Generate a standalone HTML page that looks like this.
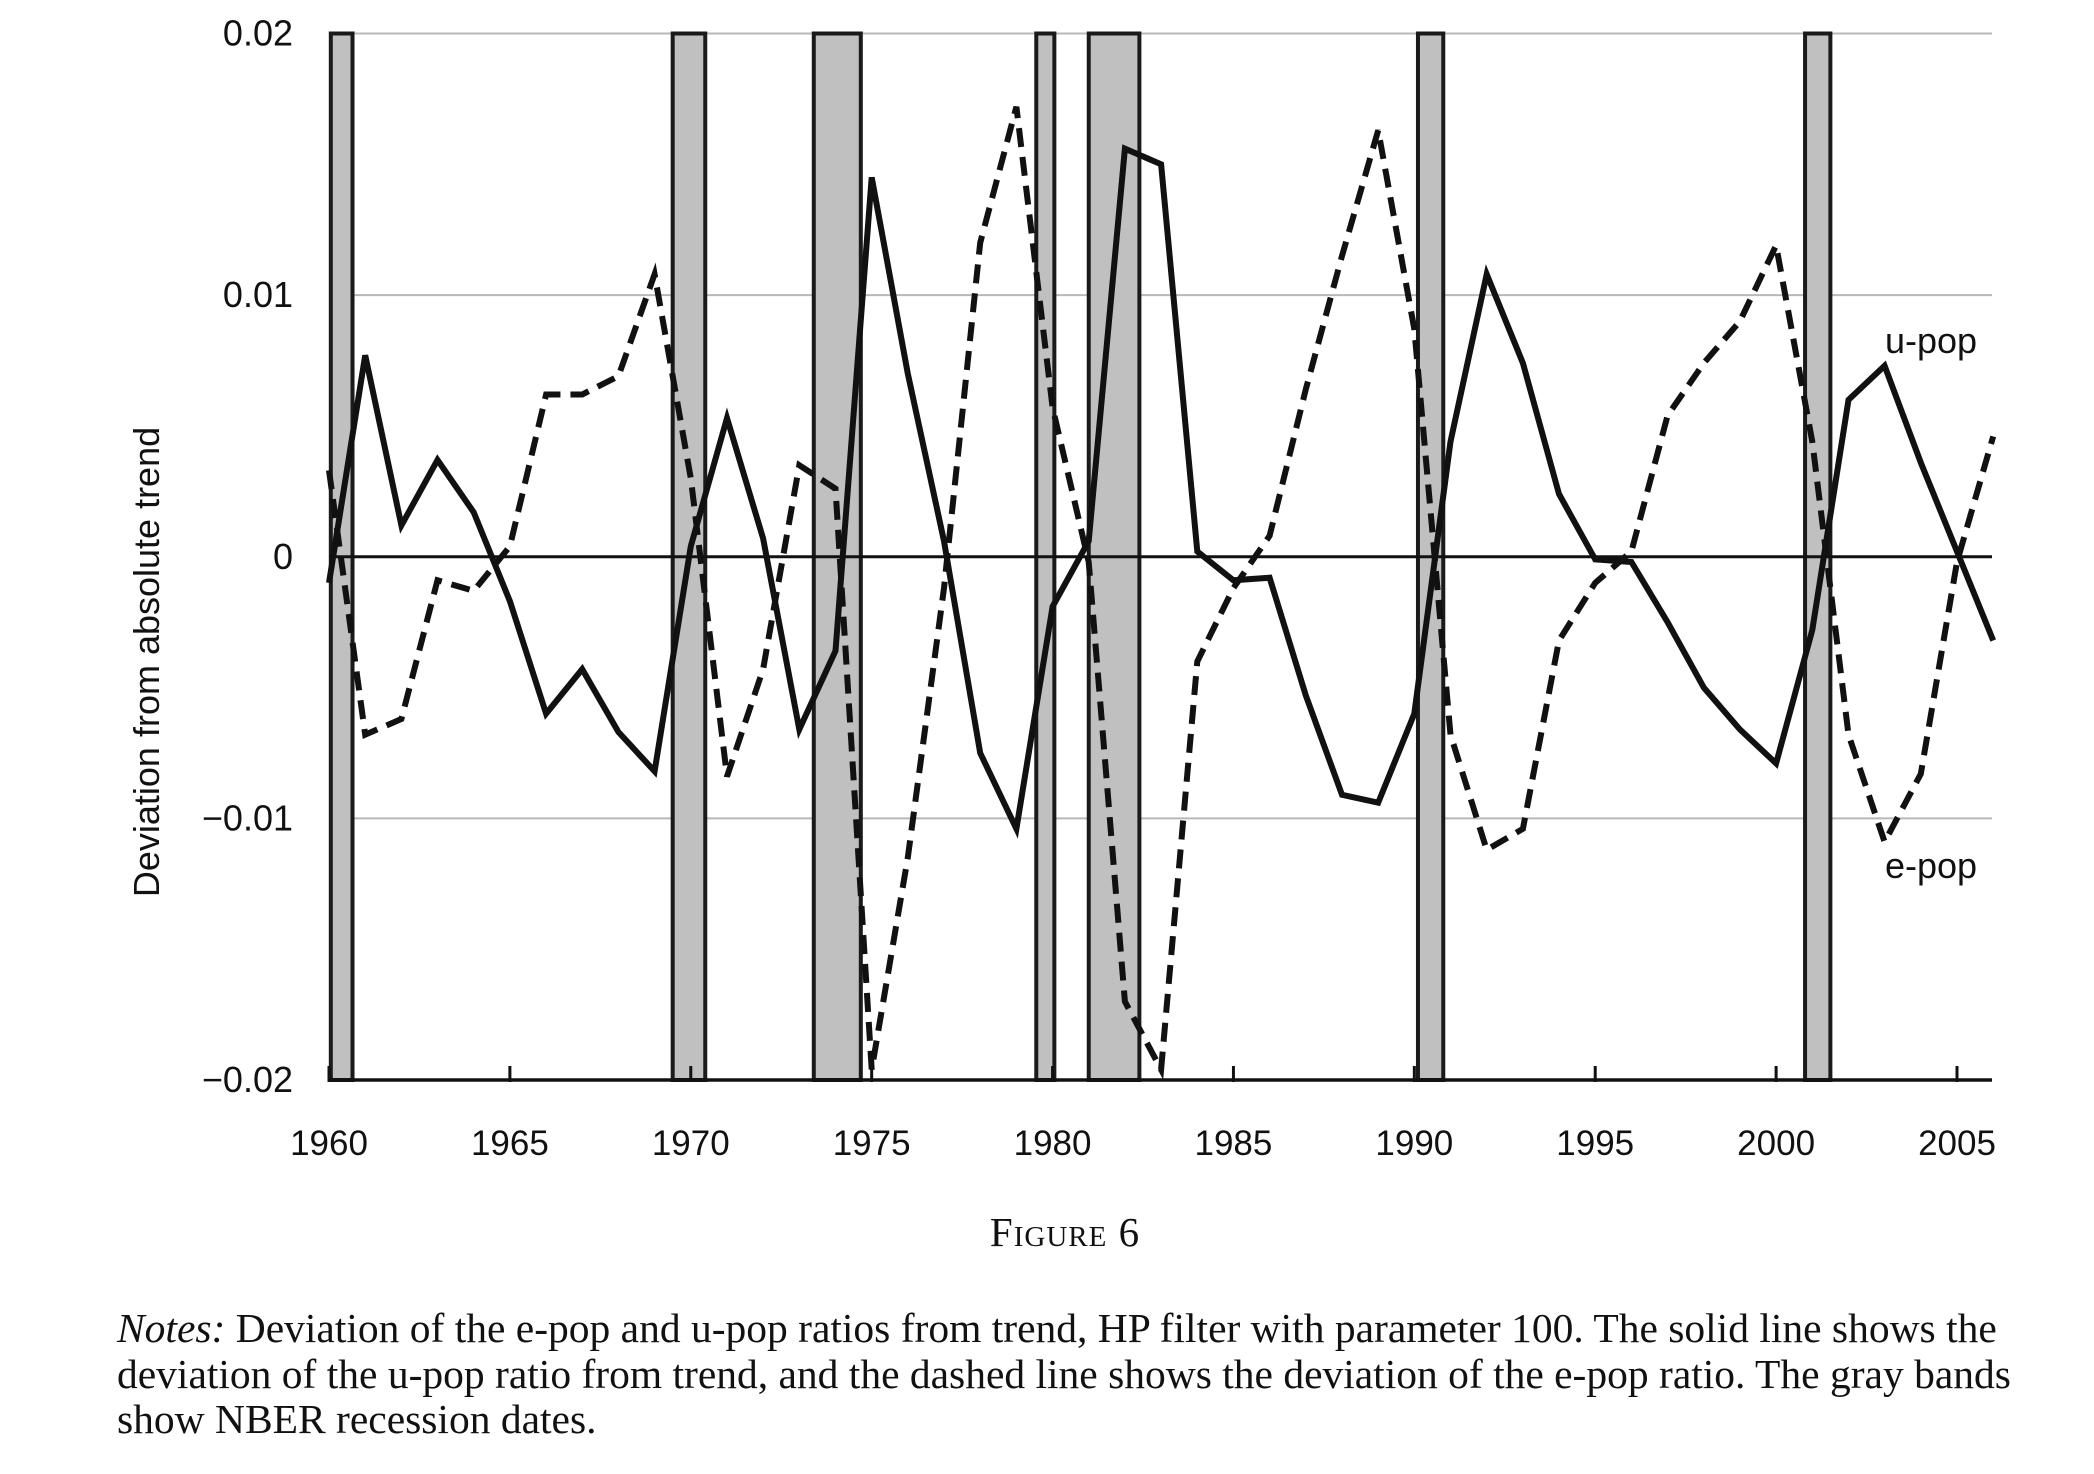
<!DOCTYPE html>
<html><head><meta charset="utf-8">
<style>
html,body{margin:0;padding:0;background:#fff;}
body{width:2094px;height:1474px;position:relative;overflow:hidden;}
svg{position:absolute;left:0;top:0;}
.notes{position:absolute;left:117px;top:1306px;width:1990px;font-family:"Liberation Serif",serif;font-size:41.5px;line-height:45.5px;color:#111;white-space:nowrap;}
.fig{position:absolute;left:0;width:2130px;top:1208px;text-align:center;font-family:"Liberation Serif",serif;font-size:41px;color:#111;font-variant:small-caps;letter-spacing:1px;}
</style></head>
<body>
<svg id="chart" width="2094" height="1474" xmlns="http://www.w3.org/2000/svg"></svg>
<div class="fig">Figure 6</div>
<div class="notes"><i>Notes:</i> Deviation of the e-pop and u-pop ratios from trend, HP filter with parameter 100. The solid line shows the<br>deviation of the u-pop ratio from trend, and the dashed line shows the deviation of the e-pop ratio. The gray bands<br>show NBER recession dates.</div>
<script>
const years = [1960,1961,1962,1963,1964,1965,1966,1967,1968,1969,1970,1971,1972,1973,1974,1975,1976,1977,1978,1979,1980,1981,1982,1983,1984,1985,1986,1987,1988,1989,1990,1991,1992,1993,1994,1995,1996,1997,1998,1999,2000,2001,2002,2003,2004,2005,2006];
const upop = [-0.001,0.0077,0.0012,0.0037,0.0017,-0.0017,-0.006,-0.0043,-0.0067,-0.0082,0.0004,0.0053,0.0007,-0.0066,-0.0036,0.0145,0.007,0.0006,-0.0075,-0.0104,-0.0019,0.0006,0.0156,0.015,0.0002,-0.0009,-0.0008,-0.0053,-0.0091,-0.0094,-0.006,0.0044,0.0108,0.0074,0.0024,-0.0001,-0.0002,-0.0025,-0.005,-0.0066,-0.0079,-0.0028,0.006,0.0073,0.0036,0.0002,-0.0032];
const epop = [0.0033,-0.0068,-0.0062,-0.0009,-0.0013,0.0004,0.0062,0.0062,0.0069,0.0108,0.003,-0.0084,-0.0043,0.0035,0.0026,-0.0196,-0.0115,-0.0012,0.012,0.0172,0.0057,-0.0002,-0.017,-0.0196,-0.004,-0.0012,0.0008,0.0064,0.0115,0.0163,0.0087,-0.0068,-0.0112,-0.0104,-0.0032,-0.001,0.0002,0.0054,0.0074,0.009,0.0119,0.0044,-0.0068,-0.0109,-0.0083,-0.0002,0.0046];
const recStart = [1960.05,1969.5,1973.4,1979.55,1981.0,1990.1,2000.8];
const recEnd = [1960.65,1970.4,1974.7,1980.05,1982.4,1990.8,2001.5];
const yTicks = [0.02,0.01,0,-0.01,-0.02];
const yTickLabels = ["0.02","0.01","0","\u22120.01","\u22120.02"];
const xTicks = [1960,1965,1970,1975,1980,1985,1990,1995,2000,2005];

const L=329,R=1992,T=33.5,B=1080;
const X=y=>L+(y-1960)*(1957-329)/45;
const Y=v=>T+(0.02-v)/0.04*(B-T);
const svg=document.getElementById('chart');
const NS='http://www.w3.org/2000/svg';
function mk(tag,attrs,parent){const e=document.createElementNS(NS,tag);for(const k in attrs)e.setAttribute(k,attrs[k]);(parent||svg).appendChild(e);return e;}

yTicks.forEach((v,i)=>{
  if(v!==0 && v!==-0.02){
    const g=mk('line',{x1:L,x2:R,y1:Y(v),y2:Y(v),stroke:'#b8b8b8','stroke-width':2});
    
    
  }
  const t=mk('text',{x:293,y:Y(v)+12,'text-anchor':'end','font-family':'Liberation Sans, sans-serif','font-size':36,fill:'#111'});
  t.textContent=yTickLabels[i];
  
  
});
recStart.forEach((s,i)=>{
  const r=mk('rect',{x:X(s),y:T,width:X(recEnd[i])-X(s),height:B-T,fill:'#c0c0c0',stroke:'#1a1a1a','stroke-width':4});
  
  
});
const z=mk('line',{x1:L,x2:R,y1:Y(0),y2:Y(0),stroke:'#111','stroke-width':3});


const ax=mk('line',{x1:L,x2:R,y1:B,y2:B,stroke:'#111','stroke-width':3.5});


xTicks.forEach(y=>{
  const tk=mk('line',{x1:X(y),x2:X(y),y1:B-14,y2:B+2,stroke:'#111','stroke-width':3});
  
  
  const t=mk('text',{x:X(y),y:1155,'text-anchor':'middle','font-family':'Liberation Sans, sans-serif','font-size':35,fill:'#111'});
  t.textContent=y;
  
  
});
const pts=a=>a.map((v,i)=>X(years[i]).toFixed(1)+','+Y(v).toFixed(1)).join(' ');
const ep=mk('polyline',{points:pts(epop),fill:'none',stroke:'#111','stroke-width':6,'stroke-dasharray':'19,10','stroke-linejoin':'miter'});


const up=mk('polyline',{points:pts(upop),fill:'none',stroke:'#111','stroke-width':6,'stroke-linejoin':'miter'});


const l1=mk('text',{x:1885,y:353,'font-family':'Liberation Sans, sans-serif','font-size':36,fill:'#111'});
l1.textContent='u-pop';


const l2=mk('text',{x:1885,y:878,'font-family':'Liberation Sans, sans-serif','font-size':36,fill:'#111'});
l2.textContent='e-pop';


const yt=mk('text',{x:0,y:0,transform:'translate(159,662) rotate(-90)','text-anchor':'middle','font-family':'Liberation Sans, sans-serif','font-size':36,fill:'#111'});
yt.textContent='Deviation from absolute trend';


</script>
</body></html>
